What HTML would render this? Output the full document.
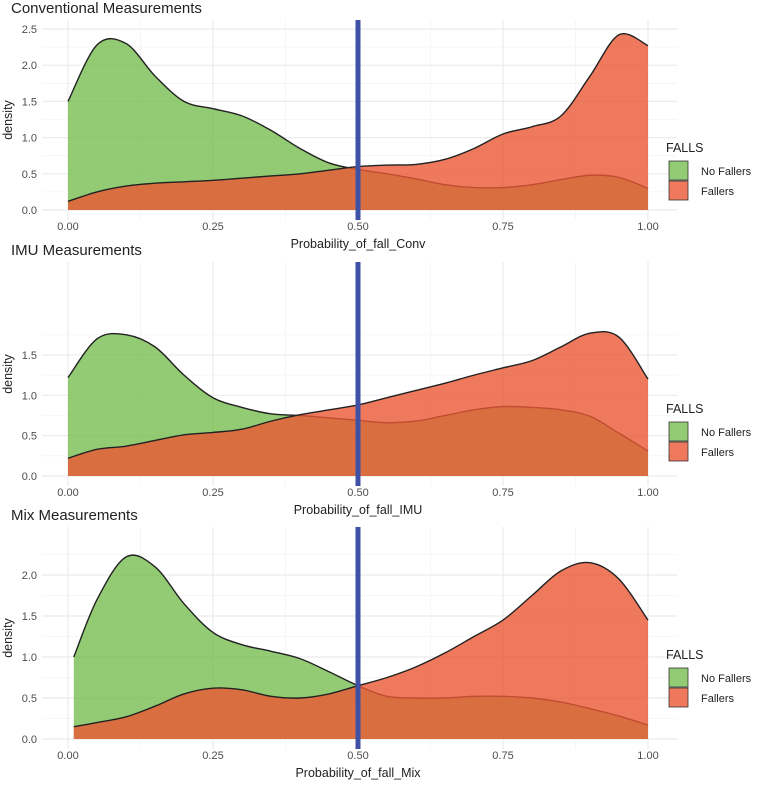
<!DOCTYPE html>
<html><head><meta charset="utf-8"><style>
body{margin:0;background:#fff;font-family:"Liberation Sans",sans-serif}
svg text{font-family:"Liberation Sans",sans-serif}
</style></head><body>
<svg id="c" width="777" height="784" xmlns="http://www.w3.org/2000/svg"></svg>
<script>
const xTicks=[0,0.25,0.5,0.75,1];
const xTickLabels=["0.00","0.25","0.50","0.75","1.00"];
const xs=[0,0.05,0.1,0.15,0.2,0.25,0.3,0.35,0.4,0.45,0.5,0.55,0.6,0.65,0.7,0.75,0.8,0.85,0.9,0.95,1];
const xs3=[0.01,0.05,0.1,0.15,0.2,0.25,0.3,0.35,0.4,0.45,0.5,0.55,0.6,0.65,0.7,0.75,0.8,0.85,0.9,0.95,1];
const green1=[1.5,2.28,2.3,1.85,1.5,1.4,1.3,1.1,0.85,0.65,0.56,0.5,0.43,0.35,0.31,0.31,0.35,0.42,0.48,0.45,0.3];
const red1=[0.12,0.25,0.33,0.37,0.39,0.41,0.44,0.47,0.5,0.55,0.6,0.62,0.63,0.7,0.85,1.05,1.15,1.3,1.85,2.42,2.27];
const green2=[1.22,1.7,1.75,1.6,1.25,0.97,0.85,0.77,0.75,0.72,0.69,0.66,0.68,0.75,0.82,0.86,0.85,0.82,0.74,0.53,0.31];
const red2=[0.22,0.33,0.37,0.44,0.51,0.54,0.58,0.68,0.76,0.82,0.88,0.97,1.06,1.15,1.25,1.34,1.43,1.6,1.77,1.72,1.2];
const green3=[1.0,1.7,2.22,2.1,1.65,1.3,1.15,1.07,0.98,0.82,0.65,0.52,0.5,0.5,0.52,0.52,0.5,0.45,0.37,0.28,0.17];
const red3=[0.15,0.2,0.27,0.4,0.55,0.62,0.6,0.52,0.5,0.55,0.65,0.75,0.88,1.05,1.25,1.45,1.75,2.05,2.15,1.95,1.45];
const yTicks1=[0,0.5,1,1.5,2,2.5];
const yTicks2=[0,0.5,1,1.5];
const yTicks3=[0,0.5,1,1.5,2];
const threshold=0.5;
const NS="http://www.w3.org/2000/svg";
const svg=document.getElementById('c');
function el(t,a,p){const e=document.createElementNS(NS,t);for(const k in a)e.setAttribute(k,a[k]);(p||svg).appendChild(e);return e;}
function txt(s,a,p){const e=el('text',a,p);e.textContent=s;return e;}
const X0=68,X1=648;
const sx=v=>X0+(X1-X0)*v;
function spline(pts){let d="M"+pts[0][0]+","+pts[0][1];
 for(let i=0;i<pts.length-1;i++){const p0=pts[Math.max(0,i-1)],p1=pts[i],p2=pts[i+1],p3=pts[Math.min(pts.length-1,i+2)];
  const c1=[p1[0]+(p2[0]-p0[0])/6,p1[1]+(p2[1]-p0[1])/6],c2=[p2[0]-(p3[0]-p1[0])/6,p2[1]-(p3[1]-p1[1])/6];
  d+=" C"+c1[0]+","+c1[1]+" "+c2[0]+","+c2[1]+" "+p2[0]+","+p2[1];}
 return d;}
function panel(o){
 const g=el('g',{});
 
 
 const sy=v=>o.y0-o.k*v;
 const yt=o.yt;
 for(let i=0;i<xTicks.length-1;i++){const m=(xTicks[i]+xTicks[i+1])/2;el('line',{x1:sx(m),x2:sx(m),y1:o.top,y2:o.bot,stroke:'#f4f4f4','stroke-width':0.8},g);}
 for(let i=0;i<yt.length;i++){const m=yt[i]+0.25;if(sy(m)>o.top)el('line',{x1:42,x2:677,y1:sy(m),y2:sy(m),stroke:'#f4f4f4','stroke-width':0.8},g);}
 xTicks.forEach((t,i)=>{el('line',{x1:sx(t),x2:sx(t),y1:o.top,y2:o.bot,stroke:'#ebebeb','stroke-width':1.2},g);
  const l=txt(xTickLabels[i],{x:sx(t),y:o.bot+10,'text-anchor':'middle','font-size':11,fill:'#4d4d4d'},g);
  
  });
 yt.forEach(t=>{el('line',{x1:42,x2:677,y1:sy(t),y2:sy(t),stroke:'#ebebeb','stroke-width':1.2},g);
  const l=txt(t.toFixed(1),{x:37,y:sy(t)+4,'text-anchor':'end','font-size':11,fill:'#4d4d4d'},g);
  
  });
 function area(xv,vals,fill,nm){const pts=xv.map((x,i)=>[sx(x),sy(vals[i])]);
  const d=spline(pts);
  const a=el('path',{d:d+` L${sx(xv[xv.length-1])},${sy(0)} L${sx(xv[0])},${sy(0)} Z`,fill:fill,'fill-opacity':0.8},g);
  
  
  const l=el('path',{d:d,fill:'none',stroke:'#222','stroke-width':1.4},g);
  
  }
 area(o.xv,o.g,'rgb(119,190,80)','no-fallers');
 area(o.xv,o.r,'rgb(235,88,52)','fallers');
 const vl=el('line',{x1:sx(threshold),x2:sx(threshold),y1:o.top,y2:o.bot,stroke:'#3f51a5','stroke-width':5},g);
 
 
 const t=txt(o.title,{x:11,y:o.top-7,'font-size':15,fill:'#222'},g);
 
 
 const xt=txt(o.xlab,{x:sx(0.5),y:o.bot+28,'text-anchor':'middle','font-size':12.5,fill:'#222'},g);
 
 
 const cy=(o.top+o.bot)/2;
 const ytl=txt('density',{x:0,y:0,transform:`translate(12,${cy}) rotate(-90)`,'text-anchor':'middle','font-size':12.5,fill:'#222'},g);
 
 
 const lg=el('g',{},g);
 
 
 const ly=o.leg;
 txt('FALLS',{x:666,y:ly,'font-size':12.5,fill:'#222'},lg);
 [['No Fallers','rgb(119,190,80)'],['Fallers','rgb(235,88,52)']].forEach((e,i)=>{
  const r=el('rect',{x:669,y:ly+9+i*20,width:19,height:19,fill:e[1],'fill-opacity':0.8,stroke:'#333','stroke-width':0.8},lg);
  
  
  txt(e[0],{x:701,y:ly+23+i*20,'font-size':11,fill:'#222'},lg);});
}
panel({name:'conventional-panel',title:'Conventional Measurements',xlab:'Probability_of_fall_Conv',top:20,bot:220,y0:210,k:72.4,yt:yTicks1,xv:xs,g:green1,r:red1,leg:152});
panel({name:'imu-panel',title:'IMU Measurements',xlab:'Probability_of_fall_IMU',top:262,bot:486,y0:476,k:80.7,yt:yTicks2,xv:xs,g:green2,r:red2,leg:413});
panel({name:'mix-panel',title:'Mix Measurements',xlab:'Probability_of_fall_Mix',top:527,bot:749,y0:739,k:82,yt:yTicks3,xv:xs3,g:green3,r:red3,leg:659});
</script>
</body></html>
